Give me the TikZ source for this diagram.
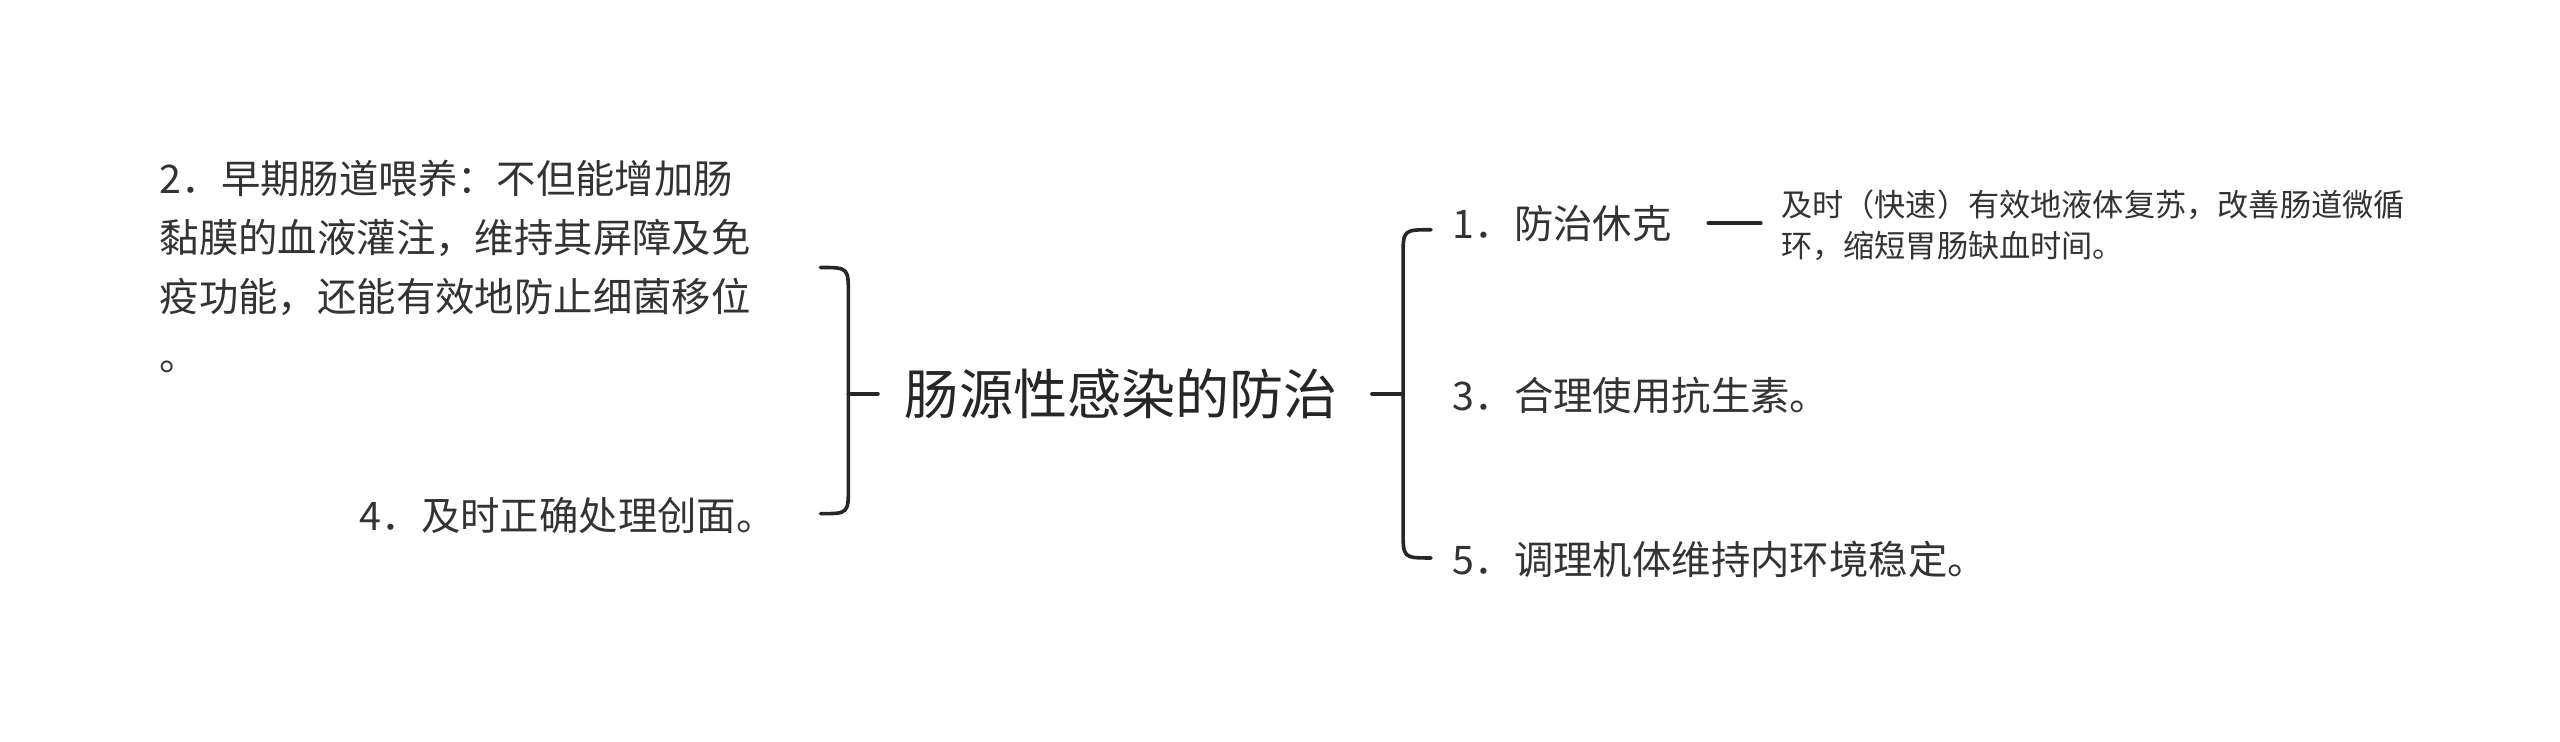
\documentclass[tikz,border=0pt]{standalone}
\usepackage{fontspec}
\setmainfont{Noto Sans CJK SC}
\begin{document}
\begin{tikzpicture}[x=0.5pt,y=-0.5pt,
  txt/.style={inner sep=0pt,text=black!80,font=\fontsize{12}{18}\selectfont},
  small/.style={inner sep=0pt,text=black!80,font=\fontsize{9.5}{12.5}\selectfont,align=left},
  ln/.style={line width=1.1pt,draw=black!85,line cap=round}]
\useasboundingbox (0,0) rectangle (1560,452);
\node[inner sep=0pt,text=black!85,font=\fontsize{16.5}{20}\selectfont,anchor=west] (c) at (551,240) {肠源性感染的防治};
\node[txt,anchor=north west,align=left] (l1) at (97,97) {2．早期肠道喂养：不但能增加肠\\黏膜的血液灌注，维持其屏障及免\\疫功能，还能有效地防止细菌移位\\。};
\node[txt,anchor=east] (l2) at (473,314) {4．及时正确处理创面。};
\coordinate (lt) at (500,163); \coordinate (lb) at (500,313);
\draw[ln] (lt) .. controls (517,163) .. (517,180) -- (517,296) .. controls (517,313) .. (lb);
\draw[ln] (517,240) -- (535,240);
\node[txt,anchor=west] (r1) at (885,136) {1．防治休克};
\node[txt,anchor=west] (r3) at (885,241) {3．合理使用抗生素。};
\node[txt,anchor=west] (r5) at (885,341) {5．调理机体维持内环境稳定。};
\draw[ln] (836,240) -- (855,240);
\draw[ln] (872,140) .. controls (855,140) .. (855,157) -- (855,323) .. controls (855,340) .. (872,340);
\node[small,anchor=west] (s) at (1085,137) {及时（快速）有效地液体复苏，改善肠道微循\\环，缩短胃肠缺血时间。};
\draw[ln] (1041,136) -- (1073,136);
\end{tikzpicture}
\end{document}
